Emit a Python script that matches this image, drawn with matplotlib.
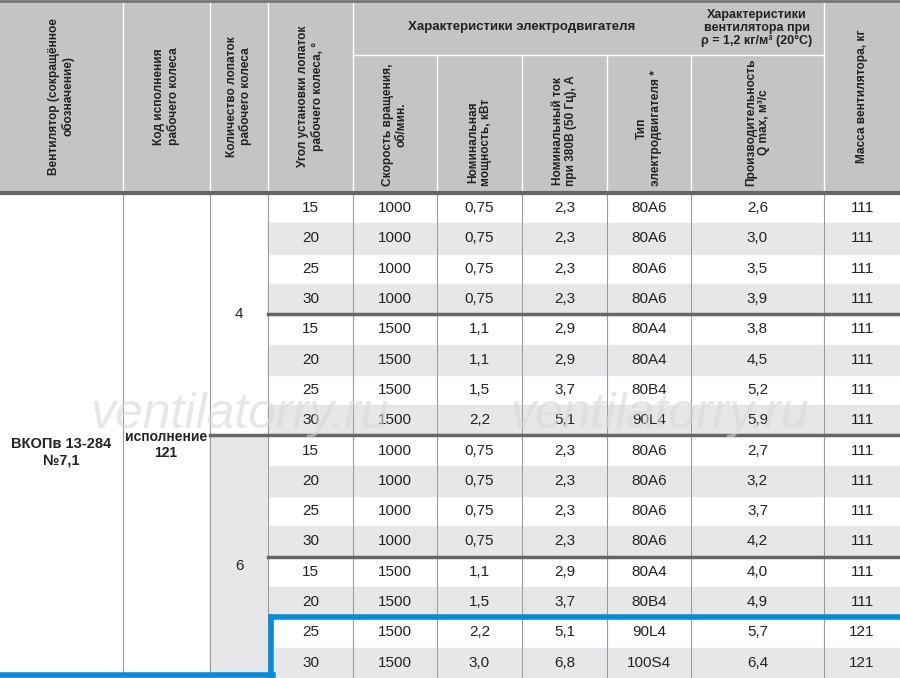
import matplotlib
matplotlib.use("Agg")
import matplotlib.pyplot as plt
from matplotlib.patches import Rectangle

plt.rcParams['font.family'] = ['Liberation Sans Narrow', 'Liberation Sans', 'DejaVu Sans']

# данные таблицы
angles = [15, 20, 25, 30, 15, 20, 25, 30, 15, 20, 25, 30, 15, 20, 25, 30]
speed = [1000, 1000, 1000, 1000, 1500, 1500, 1500, 1500,
         1000, 1000, 1000, 1000, 1500, 1500, 1500, 1500]
power = ["0,75", "0,75", "0,75", "0,75", "1,1", "1,1", "1,5", "2,2",
         "0,75", "0,75", "0,75", "0,75", "1,1", "1,5", "2,2", "3,0"]
current = ["2,3", "2,3", "2,3", "2,3", "2,9", "2,9", "3,7", "5,1",
           "2,3", "2,3", "2,3", "2,3", "2,9", "3,7", "5,1", "6,8"]
motor = ["80A6", "80A6", "80A6", "80A6", "80A4", "80A4", "80B4", "90L4",
         "80A6", "80A6", "80A6", "80A6", "80A4", "80B4", "90L4", "100S4"]
flow = ["2,6", "3,0", "3,5", "3,9", "3,8", "4,5", "5,2", "5,9",
        "2,7", "3,2", "3,7", "4,2", "4,0", "4,9", "5,7", "6,4"]
mass = [111] * 14 + [121, 121]
blades = ["4", "6"]

headers = ["Вентилятор (сокращённое\nобозначение)",
           "Код исполнения\nрабочего колеса",
           "Количество лопаток\nрабочего колеса",
           "Угол установки лопаток\nрабочего колеса, °",
           "Скорость вращения,\nоб/мин.",
           "Номинальная\nмощность, кВт",
           "Номинальный ток\nпри 380В (50 Гц), А",
           "Тип\nэлектродвигателя *",
           "Производительность\nQ max, м³/с",
           "Масса вентилятора, кг"]

xs = [0, 123, 210, 268, 353, 437, 522, 607, 691, 824, 900]
H0, H1, R = 193, 55, 30.3

fig = plt.figure(figsize=(9, 6.78), dpi=100)
ax = fig.add_axes([0, 0, 1, 1])
ax.set_xlim(0, 900)
ax.set_ylim(678, 0)
ax.axis('off')

hdr = '#c3c4c6'
stripe = '#e6e7e8'
ax.add_patch(Rectangle((0, 0), 900, H0, color=hdr, zorder=0))
n = len(angles)
for i in range(n):
    y = H0 + i * R
    if i % 2 == 1:
        ax.add_patch(Rectangle((268, y), 632, R, color=stripe, zorder=0))
ax.add_patch(Rectangle((210, H0 + 8 * R), 58, 8 * R, color=stripe, zorder=0))

# вертикальные линии
for j, x in enumerate(xs[1:-1], start=1):
    top = H1 if 4 < j < 9 else 0
    ax.plot([x, x], [top, 678], color='white', lw=1, zorder=1)
    ax.plot([x, x], [H0, 678], color='#9a9a9a', lw=0.8, zorder=1)
ax.plot([353, 691], [H1, H1], color='white', lw=1, zorder=1)
ax.plot([691, 824], [H1, H1], color='white', lw=1, zorder=1)
ax.plot([0, 900], [1, 1], color='#777', lw=2, zorder=2)
ax.plot([0, 900], [H0, H0], color='#666', lw=3, zorder=2)
for k, x0 in [(4, 268), (8, 210), (12, 268)]:
    ax.plot([x0, 900], [H0 + k * R, H0 + k * R], color='#666', lw=2.5, zorder=2)

# заголовки
hkw = dict(ha='center', fontsize=8.6, fontweight='bold',
           rotation=90, linespacing=1.15, color='#222')
for j, t in enumerate(headers):
    cx = (xs[j] + xs[j + 1]) / 2
    if j < 4 or j == 9:
        ax.text(cx, H0 / 2, t, va='center', **hkw)
    else:
        ax.text(cx, 186, t, va='bottom', **hkw)
ax.text(522, 27, "Характеристики электродвигателя", ha='center', va='center',
        fontsize=9.5, fontweight='bold', color='#222')
ax.text(757, 28, "Характеристики\nвентилятора при\nρ = 1,2 кг/м³ (20°C)",
        ha='center', va='center', fontsize=9, fontweight='bold',
        color='#222', linespacing=1.1)

# данные
cols = [angles, speed, power, current, motor, flow, mass]
for i in range(n):
    cy = H0 + (i + 0.5) * R
    for j, col in enumerate(cols):
        cx = (xs[j + 3] + xs[j + 4]) / 2
        ax.text(cx, cy, str(col[i]), ha='center', va='center',
                fontsize=11, color='#222')
ax.text(239, H0 + 4 * R, blades[0], ha='center', va='center', fontsize=11, color='#222')
ax.text(239, H0 + 12.3 * R, blades[1], ha='center', va='center', fontsize=11, color='#222')
ax.text(61, 452, "ВКОПв 13-284\n№7,1", ha='center', va='center', fontsize=10.5,
        fontweight='bold', color='#222', linespacing=1.2)
ax.text(166, 445, "исполнение\n121", ha='center', va='center', fontsize=10,
        fontweight='bold', color='#222', linespacing=1.2)

# водяной знак
for wx in [240, 660]:
    ax.text(wx, 415, "ventilatorry.ru", ha='center', va='center', fontsize=36,
            style='italic', color='#d8d8d8', alpha=0.6, zorder=3,
            family=['Liberation Sans', 'DejaVu Sans'])

# синяя рамка
blue = '#0a8ad8'
ax.plot([271, 900], [H0 + 14 * R, H0 + 14 * R], color=blue, lw=4, zorder=4)
ax.plot([271, 271], [H0 + 14 * R, 676], color=blue, lw=4, zorder=4)
ax.plot([0, 273], [675, 675], color=blue, lw=4, zorder=4)

fig.savefig("out.png", dpi=100)
